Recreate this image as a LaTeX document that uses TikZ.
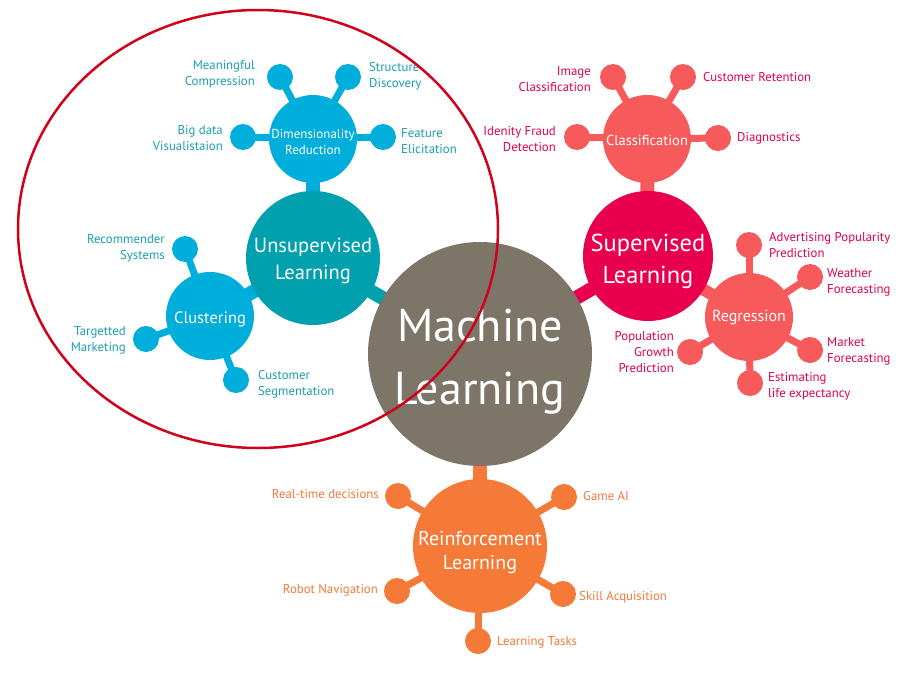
\documentclass[tikz,border=0pt]{standalone}
\usepackage{fontspec}
\setmainfont{PT Sans}
\usetikzlibrary{backgrounds}
\definecolor{mlgray}{HTML}{7C7568}
\definecolor{ulteal}{HTML}{00A0AE}
\definecolor{ublue}{HTML}{00AEDB}
\definecolor{utext}{HTML}{1A9FB2}
\definecolor{slpink}{HTML}{E8004F}
\definecolor{coral}{HTML}{F65A5A}
\definecolor{stext}{HTML}{E2004E}
\definecolor{rlorange}{HTML}{F57937}
\definecolor{rtext}{HTML}{F27A3A}
\definecolor{ellred}{HTML}{D0021B}
\begin{document}
\begin{tikzpicture}[x=1pt,y=-1pt,
  hub/.style={circle,inner sep=0pt},
  hubtext/.style={inner sep=0pt,text=white,align=center},
  leaf/.style={circle,inner sep=0pt,minimum size=26},
  lbl/.style={inner sep=0pt,font=\fontsize{12.8}{16}\selectfont},
  stem/.style={line width=14},
  twig/.style={line width=7}]
\useasboundingbox (0,0) rectangle (911,696);
% hubs
\node[hub,fill=mlgray,minimum size=224] (ml) at (480,354) {};
\node[hub,fill=ulteal,minimum size=134] (ul) at (313,258) {};
\node[hub,fill=ublue,minimum size=88] (dr) at (313,139) {};
\node[hub,fill=ublue,minimum size=88] (cl) at (210,316) {};
\node[hub,fill=slpink,minimum size=130] (sl) at (648,256) {};
\node[hub,fill=coral,minimum size=88] (cf) at (647,139) {};
\node[hub,fill=coral,minimum size=88] (rg) at (749,317) {};
\node[hub,fill=rlorange,minimum size=134] (rl) at (480,546) {};
% hub texts
\node[hubtext,font=\fontsize{46}{63}\selectfont] (mlt) at (480,362) {Machine\\Learning};
\node[hubtext,font=\fontsize{20.5}{27}\selectfont] (ult) at (313,261) {Unsupervised\\Learning};
\node[hubtext,font=\fontsize{13}{16}\selectfont] (drt) at (313,142) {Dimensionality\\Reduction};
\node[hubtext,font=\fontsize{16.5}{20}\selectfont] (clt) at (210,319) {Clustering};
\node[hubtext,font=\fontsize{24.5}{32}\selectfont] (slt) at (648,261) {Supervised\\Learning};
\node[hubtext,font=\fontsize{14.5}{20}\selectfont] (cft) at (647,140) {Classification};
\node[hubtext,font=\fontsize{16}{20}\selectfont] (rgt) at (749,318) {Regression};
\node[hubtext,font=\fontsize{20}{24}\selectfont] (rlt) at (480,553) {Reinforcement\\Learning};
% leaves
\node[leaf,fill=ublue] (mc) at (280,77) {};
\node[leaf,fill=ublue] (sd) at (348,77) {};
\node[leaf,fill=ublue] (bd) at (243,137) {};
\node[leaf,fill=ublue] (fe) at (383,137) {};
\node[leaf,fill=ublue] (rs) at (185,249) {};
\node[leaf,fill=ublue] (tm) at (146,339) {};
\node[leaf,fill=ublue] (cs) at (236,380) {};
\node[leaf,fill=coral] (ic) at (613,77) {};
\node[leaf,fill=coral] (cr) at (683,77) {};
\node[leaf,fill=coral] (idf) at (577,137) {};
\node[leaf,fill=coral] (dg) at (718,138) {};
\node[leaf,fill=coral] (ap) at (749,245) {};
\node[leaf,fill=coral] (wf) at (810,277) {};
\node[leaf,fill=coral] (pg) at (690,352) {};
\node[leaf,fill=coral] (mf) at (810,350) {};
\node[leaf,fill=coral] (le) at (750,383) {};
\node[leaf,fill=rlorange] (rt) at (398,496) {};
\node[leaf,fill=rlorange] (ga) at (564,497) {};
\node[leaf,fill=rlorange] (rn) at (397,591) {};
\node[leaf,fill=rlorange] (sa) at (563,594) {};
\node[leaf,fill=rlorange] (lt) at (478,641) {};
% connectors
\begin{scope}[on background layer]
\fill[white] (0,0) rectangle (911,696);
\draw[stem,ulteal] (ul.center) -- (ml.center);
\draw[stem,ublue] (dr.center) -- (ul.center);
\draw[stem,ublue] (cl.center) -- (ul.center);
\draw[stem,slpink] (sl.center) -- (ml.center);
\draw[stem,coral] (cf.center) -- (sl.center);
\draw[line width=12,coral] (rg.center) -- (sl.center);
\draw[stem,rlorange] (rl.center) -- (ml.center);
\foreach \a in {mc,sd,bd,fe} \draw[twig,ublue] (\a.center) -- (dr.center);
\foreach \a in {rs,tm,cs} \draw[twig,ublue] (\a.center) -- (cl.center);
\foreach \a in {ic,cr,idf,dg} \draw[twig,coral] (\a.center) -- (cf.center);
\foreach \a in {ap,wf,pg,mf,le} \draw[twig,coral] (\a.center) -- (rg.center);
\foreach \a in {rt,ga,rn,sa,lt} \draw[twig,rlorange] (\a.center) -- (rl.center);
\end{scope}
% labels
\begin{scope}[lbl,text=utext]
\node[anchor=east,align=right] (tmc) at (255,74.5) {Meaningful\\Compression};
\node[anchor=west,align=left] (tsd) at (369,76) {Structure\\Discovery};
\node[anchor=east,align=right] (tbd) at (223,138) {Big data\\Visualistaion};
\node[anchor=west,align=left] (tfe) at (401,141) {Feature\\Elicitation};
\node[anchor=east,align=right] (trs) at (165,248) {Recommender\\Systems};
\node[anchor=east,align=right] (ttm) at (126,340) {Targetted\\Marketing};
\node[anchor=west,align=left] (tcs) at (258,384) {Customer\\Segmentation};
\end{scope}
\begin{scope}[lbl,text=stext]
\node[anchor=east,align=right] (tic) at (591,79.5) {Image\\Classification};
\node[anchor=west,align=left] (tcr) at (703,77) {Customer Retention};
\node[anchor=east,align=right] (tidf) at (556,139) {Idenity Fraud\\Detection};
\node[anchor=west,align=left] (tdg) at (737,138) {Diagnostics};
\node[anchor=west,align=left] (tap) at (769,245) {Advertising Popularity\\Prediction};
\node[anchor=west,align=left] (twf) at (827,282) {Weather\\Forecasting};
\node[anchor=east,align=right] (tpg) at (674,352) {Population\\Growth\\Prediction};
\node[anchor=west,align=left] (tmf) at (827,351) {Market\\Forecasting};
\node[anchor=west,align=left] (tle) at (768,386.5) {Estimating\\life expectancy};
\end{scope}
\begin{scope}[lbl,text=rtext]
\node[anchor=east] (trt) at (379,494) {Real-time decisions};
\node[anchor=west] (tga) at (583,496) {Game AI};
\node[anchor=east] (trn) at (378,590) {Robot Navigation};
\node[anchor=west] (tsa) at (579,597) {Skill Acquisition};
\node[anchor=west] (tlt) at (497,642) {Learning Tasks};
\end{scope}
% red ellipse
\draw[ellred,line width=2.5] (258,229) ellipse [x radius=240, y radius=219];
\end{tikzpicture}
\end{document}
